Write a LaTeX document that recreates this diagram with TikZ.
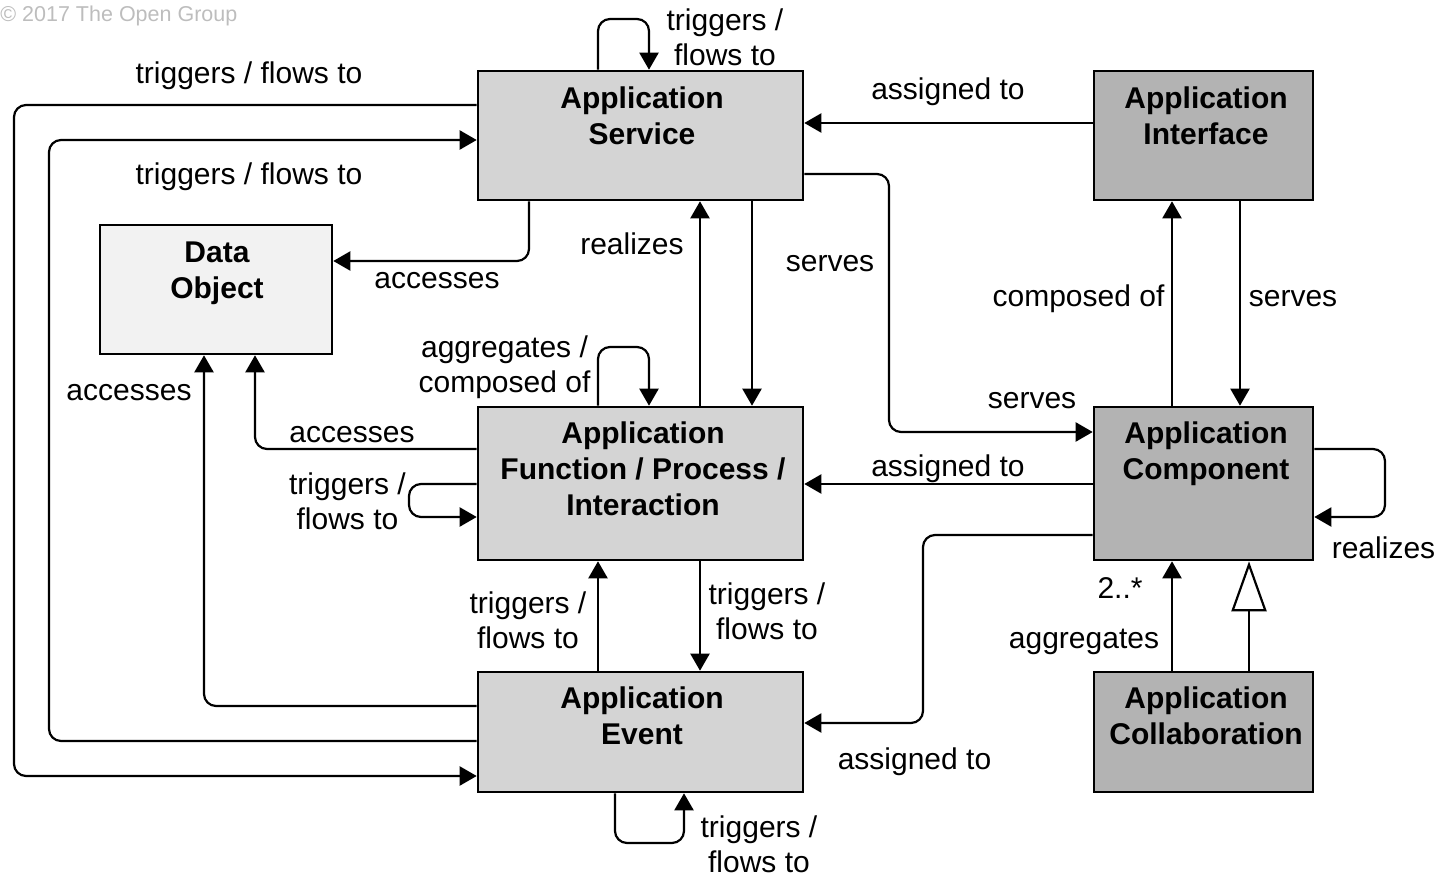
\documentclass[tikz,border=0pt]{standalone}
\usepackage{fontspec}
\setmainfont{Liberation Sans}
\usetikzlibrary{arrows.meta}
\definecolor{boxlight}{HTML}{D4D4D4}
\definecolor{boxdark}{HTML}{B3B3B3}
\definecolor{boxpale}{HTML}{F2F2F2}
\definecolor{copygray}{HTML}{BDBDBD}
\begin{document}
\begin{tikzpicture}[x=0.5pt,y=-0.5pt,
  elem/.style={draw=black, line width=1.3pt, inner sep=0pt, rectangle},
  lightbox/.style={elem, fill=boxlight},
  darkbox/.style={elem, fill=boxdark},
  palebox/.style={elem, fill=boxpale},
  btext/.style={font=\fontsize{15}{18}\selectfont\bfseries, align=center, anchor=north, inner sep=0pt, yshift=-0.6pt},
  lbl/.style={font=\fontsize{15}{17.5}\selectfont, align=center, anchor=base, inner sep=0pt, yshift=-0.6pt},
  lbltwo/.style={font=\fontsize{15}{17.5}\selectfont, align=center, anchor=north, inner sep=0pt, yshift=-0.6pt},
  conn/.style={line width=1.1pt, rounded corners=6pt},
  arr/.style={conn, -{Triangle[length=8.5pt,width=9.5pt]}},
  spec/.style={conn, -{Triangle[open,length=25pt,width=17.5pt,fill=white]}}
]
\useasboundingbox (0,0) rectangle (1440,877);

% copyright
\node[font=\fontsize{10.75}{12}\selectfont, text=copygray, anchor=base west, inner sep=0pt] (copy) at (0,22) {© 2017 The Open Group};

% boxes
\node[lightbox, minimum width=162.5pt, minimum height=64.5pt] (as) at (640.5,135.5) {};
\node[darkbox, minimum width=109.5pt, minimum height=64.5pt] (ai) at (1203.5,135.5) {};
\node[palebox, minimum width=116pt, minimum height=64.5pt] (do) at (216,289.5) {};
\node[lightbox, minimum width=162.5pt, minimum height=76.5pt] (af) at (640.5,483.5) {};
\node[darkbox, minimum width=109.5pt, minimum height=76.5pt] (ac) at (1203.5,483.5) {};
\node[lightbox, minimum width=162.5pt, minimum height=60pt] (ae) at (640.5,732) {};
\node[darkbox, minimum width=109.5pt, minimum height=60pt] (aco) at (1203.5,732) {};

% box texts
\node[btext] (ast) at (642,85.5) {Application\\Service};
\node[btext] (ait) at (1206,85.5) {Application\\Interface};
\node[btext] (dot) at (217,240.5) {Data\\Object};
\node[btext] (aft) at (643,420.5) {Application\\Function / Process /\\Interaction};
\node[btext] (act) at (1206,420.5) {Application\\Component};
\node[btext] (aet) at (642,685.5) {Application\\Event};
\node[btext] (acot) at (1206,685.5) {Application\\Collaboration};

% connectors
% AS self loop
\draw[arr] (as.north -| 598,0) -- (598,19) -- (649,19) -- (as.north -| 649,0);
% AS -> AE (outer)
\draw[arr] (as.west |- 0,105) -- (14,105) -- (14,776) -- (ae.west |- 0,776);
% AE -> AS
\draw[arr] (ae.west |- 0,741) -- (49,741) -- (49,140) -- (as.west |- 0,140);
% AS -> DO accesses
\draw[arr] (as.south -| 529,0) -- (529,261) -- (do.east |- 0,261);
% AF -> AS realizes
\draw[arr] (af.north -| 700,0) -- (as.south -| 700,0);
% AS -> AF serves
\draw[arr] (as.south -| 752,0) -- (af.north -| 752,0);
% AS -> AC serves
\draw[arr] (as.east |- 0,174) -- (889,174) -- (889,432) -- (ac.west |- 0,432);
% AI -> AS assigned to
\draw[arr] (ai.west |- 0,123) -- (as.east |- 0,123);
% AC -> AI composed of
\draw[arr] (ac.north -| 1172,0) -- (ai.south -| 1172,0);
% AI -> AC serves
\draw[arr] (ai.south -| 1240,0) -- (ac.north -| 1240,0);
% AF self loop aggregates / composed of
\draw[arr] (af.north -| 598,0) -- (598,347) -- (649,347) -- (af.north -| 649,0);
% AF -> DO accesses
\draw[arr] (af.west |- 0,449) -- (255,449) -- (do.south -| 255,0);
% AE -> DO accesses
\draw[arr] (ae.west |- 0,706) -- (204,706) -- (do.south -| 204,0);
% AF self loop triggers
\draw[arr] (af.west |- 0,484) -- (409,484) -- (409,517) -- (af.west |- 0,517);
% AC -> AF assigned to
\draw[arr] (ac.west |- 0,484) -- (af.east |- 0,484);
% AC self loop realizes
\draw[arr] (ac.east |- 0,449) -- (1385,449) -- (1385,517) -- (ac.east |- 0,517);
% AC -> AE assigned to
\draw[arr] (ac.west |- 0,535) -- (923,535) -- (923,723) -- (ae.east |- 0,723);
% AE -> AF triggers
\draw[arr] (ae.north -| 598,0) -- (af.south -| 598,0);
% AF -> AE triggers
\draw[arr] (af.south -| 700,0) -- (ae.north -| 700,0);
% AE self loop
\draw[arr] (ae.south -| 615,0) -- (615,843) -- (684,843) -- (ae.south -| 684,0);
% ACo -> AC aggregates
\draw[arr] (aco.north -| 1172,0) -- (ac.south -| 1172,0);
% ACo -> AC specialization
\draw[spec] (aco.north -| 1249,0) -- (ac.south -| 1249,0);

% labels
\node[lbl] (l1) at (249,82) {triggers / flows to};
\node[lbl] (l2) at (249,183) {triggers / flows to};
\node[lbltwo] (l3) at (725,7.5) {triggers /\\flows to};
\node[lbl] (l4) at (948,98) {assigned to};
\node[lbl] (l5) at (437,287) {accesses};
\node[lbl] (l6) at (632,253) {realizes};
\node[lbl] (l7) at (830,270) {serves};
\node[lbl] (l8) at (1078.5,305) {composed of};
\node[lbl] (l9) at (1293,305) {serves};
\node[lbl] (l10) at (129,399) {accesses};
\node[lbltwo] (l11) at (504.5,334.5) {aggregates /\\composed of};
\node[lbl] (l12) at (352,441) {accesses};
\node[lbltwo] (l13) at (347.5,471.5) {triggers /\\flows to};
\node[lbl] (l14) at (1032,407) {serves};
\node[lbl] (l15) at (948,475) {assigned to};
\node[lbl] (l16) at (1383.5,557) {realizes};
\node[lbltwo] (l17) at (528,590.5) {triggers /\\flows to};
\node[lbltwo] (l18) at (767,581.5) {triggers /\\flows to};
\node[lbl] (l19) at (914.5,768) {assigned to};
\node[lbltwo] (l20) at (759,814.5) {triggers /\\flows to};
\node[lbl] (l21) at (1120,597) {2..*};
\node[lbl] (l22) at (1084,647) {aggregates};
\end{tikzpicture}
\end{document}
